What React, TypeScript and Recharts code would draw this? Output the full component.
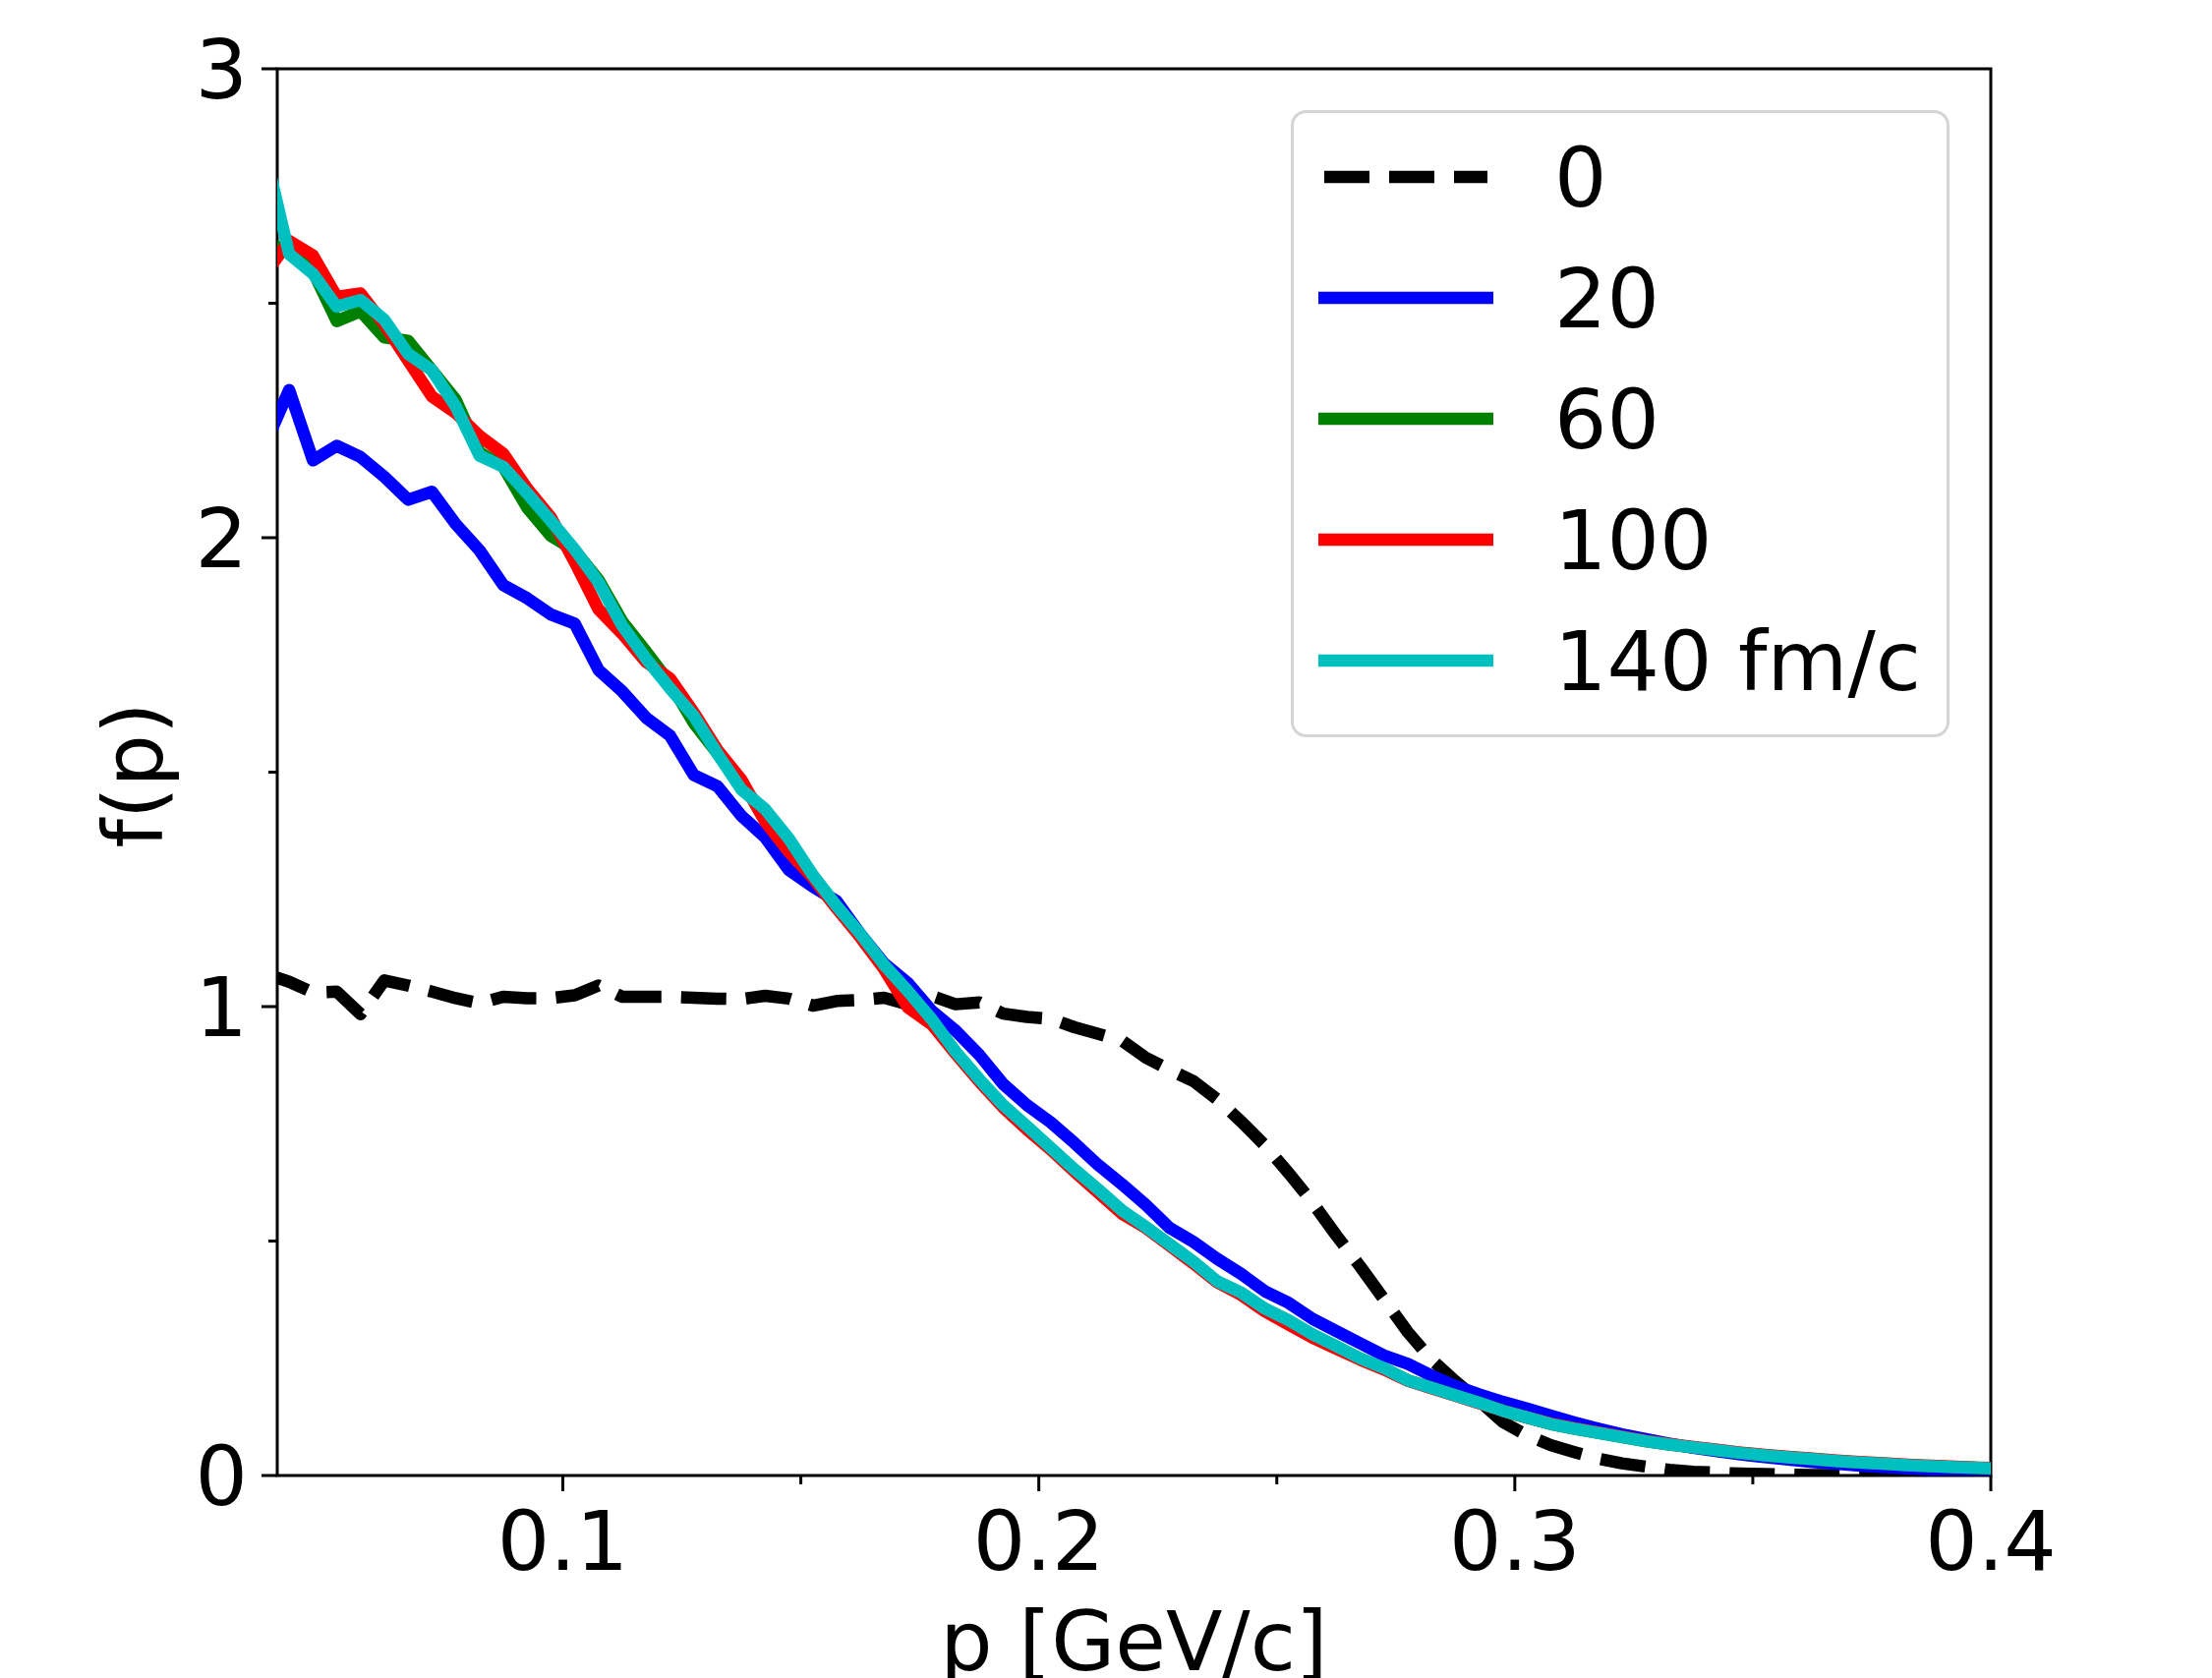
import React from 'react';
import { LineChart, Line, XAxis, YAxis, ReferenceArea, Legend } from 'recharts';

// momentum bin centres [GeV/c]
const P = [0.0375,0.0425,0.0475,0.0525,0.0575,0.0625,0.0675,0.0725,0.0775,0.0825,
0.0875,0.0925,0.0975,0.1025,0.1075,0.1125,0.1175,0.1225,0.1275,0.1325,
0.1375,0.1425,0.1475,0.1525,0.1575,0.1625,0.1675,0.1725,0.1775,0.1825,
0.1875,0.1925,0.1975,0.2025,0.2075,0.2125,0.2175,0.2225,0.2275,0.2325,
0.2375,0.2425,0.2475,0.2525,0.2575,0.2625,0.2675,0.2725,0.2775,0.2825,
0.2875,0.2925,0.2975,0.3025,0.3075,0.3125,0.3175,0.3225,0.3275,0.3325,
0.3375,0.3425,0.3475,0.3525,0.3575,0.3625,0.3675,0.3725,0.3775,0.3825,
0.3875,0.3925,0.3975,0.4025];

const F0 = [1.07,1.053,1.030,1.032,0.984,1.056,1.045,1.032,1.018,1.007,
1.021,1.018,1.018,1.024,1.045,1.021,1.021,1.021,1.019,1.017,
1.016,1.023,1.017,1.002,1.012,1.014,1.019,1.005,1.023,1.005,
1.009,0.985,0.978,0.974,0.956,0.942,0.927,0.891,0.865,0.841,
0.802,0.755,0.704,0.645,0.582,0.512,0.446,0.376,0.306,0.247,
0.201,0.159,0.114,0.086,0.065,0.050,0.036,0.026,0.019,0.012,
0.008,0.006,0.004,0.003,0.002,0.001,0.001,0.001,0,0,
0,0,0,0];

const F20 = [2.20,2.315,2.165,2.196,2.172,2.130,2.081,2.098,2.029,1.973,
1.899,1.871,1.836,1.817,1.718,1.672,1.616,1.578,1.494,1.470,
1.407,1.361,1.291,1.256,1.225,1.155,1.092,1.050,0.991,0.949,
0.897,0.835,0.790,0.753,0.709,0.662,0.621,0.577,0.528,0.498,
0.462,0.430,0.393,0.368,0.334,0.308,0.282,0.256,0.238,0.213,
0.191,0.173,0.157,0.143,0.128,0.113,0.100,0.088,0.078,0.068,
0.059,0.052,0.045,0.039,0.034,0.029,0.025,0.021,0.018,0.015,
0.013,0.011,0.009,0.008];

const F60 = [2.63,2.612,2.568,2.462,2.483,2.427,2.420,2.357,2.294,2.182,
2.151,2.064,2.004,1.973,1.910,1.821,1.757,1.690,1.605,1.540,
1.470,1.414,1.350,1.280,1.214,1.152,1.085,1.025,0.968,0.902,
0.843,0.788,0.742,0.697,0.650,0.607,0.561,0.529,0.492,0.455,
0.413,0.388,0.354,0.328,0.298,0.274,0.249,0.228,0.203,0.187,
0.171,0.155,0.138,0.124,0.110,0.100,0.091,0.082,0.073,0.066,
0.060,0.054,0.048,0.043,0.039,0.035,0.031,0.028,0.025,0.022,
0.020,0.018,0.016,0.014];

const F100 = [2.563,2.633,2.602,2.514,2.521,2.455,2.378,2.301,2.266,2.217,
2.179,2.105,2.043,1.948,1.847,1.795,1.735,1.700,1.627,1.547,
1.484,1.395,1.330,1.275,1.210,1.148,1.080,0.998,0.962,0.900,
0.840,0.785,0.738,0.695,0.648,0.603,0.558,0.528,0.490,0.452,
0.412,0.385,0.350,0.322,0.294,0.270,0.247,0.226,0.202,0.186,
0.170,0.154,0.138,0.124,0.111,0.101,0.092,0.083,0.074,0.067,
0.061,0.055,0.049,0.044,0.040,0.036,0.032,0.029,0.026,0.023,
0.021,0.019,0.017,0.015];

const F140 = [2.82,2.605,2.563,2.493,2.507,2.465,2.392,2.357,2.280,2.175,
2.151,2.095,2.036,1.975,1.905,1.812,1.742,1.679,1.620,1.539,
1.463,1.421,1.358,1.281,1.215,1.155,1.089,1.033,0.973,0.904,
0.845,0.790,0.745,0.699,0.653,0.610,0.565,0.530,0.493,0.456,
0.414,0.390,0.356,0.331,0.301,0.276,0.250,0.229,0.203,0.187,
0.171,0.155,0.138,0.124,0.110,0.100,0.091,0.082,0.073,0.066,
0.060,0.054,0.048,0.043,0.039,0.035,0.031,0.028,0.025,0.022,
0.020,0.018,0.016,0.014];

const SERIES_KEYS = ['t0', 't20', 't60', 't100', 't140'];
const SERIES_NAMES = ['0', '20', '60', '100', '140 fm/c'];
const SERIES_COLORS = ['#000000', '#0000ff', '#008000', '#ff0000', '#00bfbf'];
const SERIES_DASH = ['46 20', undefined, undefined, undefined, undefined];
const SERIES_VALUES = [F0, F20, F60, F100, F140];

const X_TICKS = [0.1, 0.15, 0.2, 0.25, 0.3, 0.35, 0.4];
const Y_TICKS = [0, 0.5, 1, 1.5, 2, 2.5, 3];
const X_LABEL = 'p [GeV/c]';
const Y_LABEL = 'f(p)';

const data = P.map((p, i) => {
  const row: any = { p };
  SERIES_KEYS.forEach((k, j) => { row[k] = SERIES_VALUES[j][i]; });
  return row;
});

const FONT = '"DejaVu Sans", "Liberation Sans", sans-serif';
const FS = 84;
const TICK = 16;
const MINOR = 9;
const Y_MARGIN = 14;
const X_MARGIN = 20;
const CHART_W = 2250;
const CHART_H = 1707;
const X_LABEL_BASELINE = 1699;
const Y_LABEL_BASELINE_X = 165;

const isMajor = (v: number, step: number) => Math.abs(v / step - Math.round(v / step)) < 1e-6;

const YTick = (props: any) => {
  const { x, y, payload } = props;
  const axisX = x + TICK + Y_MARGIN;
  const major = isMajor(payload.value, 1);
  return (
    <g>
      <line x1={axisX} x2={axisX - (major ? TICK : MINOR)} y1={y} y2={y} stroke="#000" strokeWidth={3} />
      {major && (
        <text x={x} y={y} dy="0.36em" textAnchor="end" fontFamily={FONT} fontSize={FS} fill="#000">
          {String(payload.value)}
        </text>
      )}
    </g>
  );
};

const XTick = (props: any) => {
  const { x, y, payload } = props;
  const axisY = y - TICK - X_MARGIN;
  const major = isMajor(payload.value, 0.1);
  return (
    <g>
      <line x1={x} x2={x} y1={axisY} y2={axisY + (major ? TICK : MINOR)} stroke="#000" strokeWidth={3} />
      {major && (
        <text x={x} y={y} dy="0.71em" textAnchor="middle" fontFamily={FONT} fontSize={FS} fill="#000">
          {payload.value.toFixed(1)}
        </text>
      )}
    </g>
  );
};

const XLabel = (props: any) => {
  const vb = props.viewBox || {};
  const cx = vb.x + vb.width / 2;
  return (
    <text x={cx} y={X_LABEL_BASELINE} textAnchor="middle" fontFamily={FONT} fontSize={FS} fill="#000">{X_LABEL}</text>
  );
};

const YLabel = (props: any) => {
  const vb = props.viewBox || {};
  const cy = vb.y + vb.height / 2 + 3;
  return (
    <text x={0} y={0} transform={`translate(${Y_LABEL_BASELINE_X}, ${cy}) rotate(-90)`} textAnchor="middle" fontFamily={FONT} fontSize={FS} fill="#000">{Y_LABEL}</text>
  );
};

const LEG_W = 670;
const LEG_H = 638;

const LegendBox = (props: any) => {
  const payload = [...(props.payload || [])].sort(
    (a: any, b: any) => SERIES_KEYS.indexOf(a.dataKey) - SERIES_KEYS.indexOf(b.dataKey)
  );
  return (
    <svg width={LEG_W} height={LEG_H} style={{ display: 'block' }}>
      <rect x={1.5} y={1.5} width={LEG_W - 3} height={LEG_H - 3} rx={14} ry={14} fill="#ffffff" fillOpacity={0.8} stroke="#d5d5d5" strokeWidth={3} />
      {payload.map((item: any, i: number) => {
        const cy = 68 + i * 123;
        const j = SERIES_KEYS.indexOf(item.dataKey);
        const dash = SERIES_DASH[j];
        return (
          <g key={i}>
            <line x1={dash ? 34 : 28} x2={dash ? 200 : 206} y1={cy} y2={cy} stroke={item.color} strokeWidth={12.5} strokeDasharray={dash} />
            <text x={268} y={cy} dy="0.36em" fontFamily={FONT} fontSize={FS} fill="#000">{item.value}</text>
          </g>
        );
      })}
    </svg>
  );
};

export default function App() {
  return (
    <div style={{ position: 'absolute', left: 0, top: 0, width: CHART_W, height: CHART_H, background: '#fff' }}>
      <LineChart width={CHART_W} height={CHART_H} data={data} margin={{ top: 70, right: 225, bottom: 0, left: 0 }}>
        <XAxis
          dataKey="p"
          type="number"
          domain={[0.04, 0.4]}
          allowDataOverflow
          ticks={X_TICKS}
          interval={0}
          height={206}
          tickSize={TICK}
          tickMargin={X_MARGIN}
          tickLine={false}
          axisLine={false}
          tick={<XTick />}
          label={<XLabel />}
        />
        <YAxis
          type="number"
          domain={[0, 3]}
          allowDataOverflow
          ticks={Y_TICKS}
          interval={0}
          width={282}
          tickSize={TICK}
          tickMargin={Y_MARGIN}
          tickLine={false}
          axisLine={false}
          tick={<YTick />}
          label={<YLabel />}
        />
        {SERIES_KEYS.map((k, j) => (
          <Line
            key={k}
            dataKey={k}
            name={SERIES_NAMES[j]}
            type="linear"
            stroke={SERIES_COLORS[j]}
            strokeWidth={12.5}
            strokeDasharray={SERIES_DASH[j]}
            strokeLinejoin="round"
            dot={false}
            activeDot={false}
            isAnimationActive={false}
          />
        ))}
        <ReferenceArea x1={0.04} x2={0.4} y1={0} y2={3} fill="none" fillOpacity={0} stroke="#000" strokeWidth={3} ifOverflow="visible" />
        <Legend
          layout="vertical"
          align="center"
          verticalAlign="middle"
          itemSorter={null as any}
          wrapperStyle={{ position: 'absolute', left: 1313, top: 112, width: LEG_W, height: LEG_H, bottom: 'auto', right: 'auto' }}
          content={<LegendBox />}
        />
      </LineChart>
    </div>
  );
}
